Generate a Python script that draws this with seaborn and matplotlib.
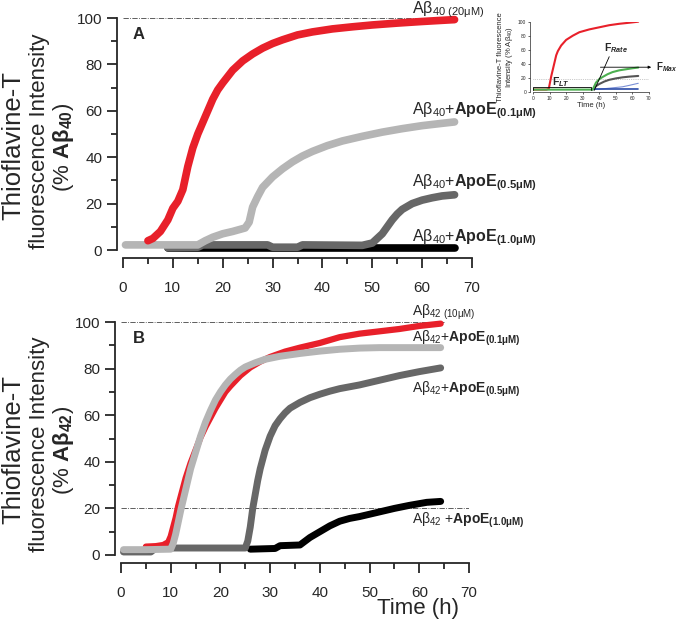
import numpy as np
import pandas as pd
import seaborn as sns
import matplotlib.pyplot as plt
from matplotlib.ticker import MultipleLocator

# ---- panel A : Abeta40 ----
a40_t = [5, 6, 7.5, 9, 10, 11, 12, 13, 14, 15, 16, 17, 18, 19, 20, 22, 24, 26, 28, 30, 32, 35, 38, 42, 46, 50, 55, 60, 64, 66.5]
a40_v = [4, 5, 8, 13, 18, 21, 26, 36, 44, 50, 55, 60, 65, 69, 72, 77.5, 81.5, 84.5, 87, 89, 90.6, 92.7, 94, 95.3, 96.2, 97, 97.8, 98.5, 99, 99.3]
a40_e01_t = [0.5, 5, 10, 15, 16.5, 18, 20, 22, 24.5, 25.3, 26, 27, 28, 30, 32, 34, 36, 38, 41, 44, 48, 52, 56, 60, 64, 66.5]
a40_e01_v = [2.2, 2.2, 2.2, 2.2, 4, 5.5, 7, 8, 9.5, 12, 18.5, 23, 27, 31.5, 35, 38, 40.5, 42.5, 45, 47, 49, 50.8, 52.3, 53.6, 54.6, 55.2]
a40_e05_t = [9, 15, 16, 29, 30, 35, 36, 48, 50, 51, 52, 53, 54, 55, 56, 58, 60, 62, 64, 66.5]
a40_e05_v = [1, 1.2, 2.2, 2.2, 1.2, 1.2, 2.2, 2, 3, 5, 7, 10, 13, 15.5, 17.5, 20, 21.5, 22.5, 23.3, 23.8]
a40_e10_t = [9, 20, 30, 40, 50, 60, 66.5]
a40_e10_v = [0.8, 0.8, 0.8, 0.8, 0.8, 0.8, 0.8]

# ---- panel B : Abeta42 ----
a42_t = [5, 7, 8.5, 9.5, 10, 10.5, 11, 11.5, 12, 12.5, 13, 14, 15, 16, 17, 18, 19, 20, 21, 22, 24, 26, 28, 30, 33, 36, 40, 44, 48, 52, 56, 60, 64.3]
a42_v = [3.6, 3.8, 4.3, 5.5, 8, 12, 16, 21, 25, 29, 33, 39.5, 45, 50.5, 55, 59, 63, 66.5, 70, 72.5, 77, 80.5, 83, 85, 87.3, 89, 91, 93.5, 95, 96, 97, 98.3, 99.3]
a42_e01_t = [0.5, 5, 10, 10.5, 11, 11.5, 12, 13, 14, 15, 16, 17, 18, 19, 20, 21, 22, 23, 24, 25, 27, 29, 32, 36, 40, 44, 48, 52, 56, 60, 64.3]
a42_e01_v = [2.3, 2.3, 2.5, 5, 9, 14, 19, 28, 37, 44, 51, 57, 62, 66.5, 70, 73, 75.5, 77.5, 79.3, 80.7, 82.5, 84, 85.3, 86.5, 87.5, 88.3, 88.8, 89, 89, 89, 89]
a42_e05_t = [0.5, 6, 7, 25, 25.5, 26, 26.5, 27, 27.5, 28, 28.5, 29, 30, 31, 32, 33, 34, 36, 38, 40, 42, 44, 48, 52, 56, 60, 64.3]
a42_e05_v = [1.3, 1.3, 3, 3, 6, 12, 20, 26, 32, 37, 41, 45, 51, 55.5, 58.5, 61, 63, 65.5, 67.5, 69, 70.3, 71.4, 73, 75, 77, 78.7, 80.3]
a42_e10_t = [26, 31, 32, 36, 38, 40, 42, 44, 46, 48, 50, 52, 55, 58, 61.5, 64.3]
a42_e10_v = [2.5, 2.8, 4, 4.3, 7.5, 10, 12.5, 14.5, 15.7, 16.5, 17.5, 18.5, 20, 21.3, 22.6, 23]

# ---- inset (schematic) ----
ins_red_t = [0, 8, 9.5, 10, 11, 12, 13, 14, 15, 17, 20, 24, 28, 34, 40, 46, 52, 58, 63.5]
ins_red_v = [3, 3, 4, 10, 22, 32, 42, 52, 58, 66, 74, 80, 85, 89, 92, 95, 97, 98.5, 100]
ins_green_t = [0, 36, 38, 40, 42, 45, 48, 52, 56, 60, 63.5]
ins_green_v = [3, 3, 13, 18, 21, 25, 28, 30.5, 32, 33.5, 34.5]
ins_gray_t = [36, 38, 40, 43, 46, 50, 54, 58, 63.5]
ins_gray_v = [3, 8, 11, 14.5, 17, 19, 20.5, 21.5, 22.5]
ins_lblue_t = [36, 42, 46, 50, 54, 58, 63.5]
ins_lblue_v = [3, 4, 5, 6, 7, 9, 12]
ins_blue_t = [36, 50, 63.5]
ins_blue_v = [3.5, 3.5, 3.5]

red = '#e8202a'
lgray = '#b5b5b5'
dgray = '#676767'
black = '#000000'

sns.set_style('ticks')
plt.rcParams['font.family'] = ['Liberation Sans', 'DejaVu Sans']
plt.rcParams['mathtext.fontset'] = 'custom'
plt.rcParams['mathtext.rm'] = 'Liberation Sans'
plt.rcParams['mathtext.bf'] = 'Liberation Sans:bold'
plt.rcParams['mathtext.it'] = 'Liberation Sans:bold:italic'
plt.rcParams['mathtext.sf'] = 'Liberation Sans'

fig = plt.figure(figsize=(6.8, 6.23), dpi=100)
W, H = 680.0, 623.0
ax_a = fig.add_axes([123 / W, 1 - 250 / H, 349 / W, 232 / H])
ax_b = fig.add_axes([121 / W, 1 - 555 / H, 348 / W, 233 / H])


def style_axis(ax):
    ax.set_xlim(0, 70)
    ax.set_ylim(0, 100)
    for s in ['top', 'right']:
        ax.spines[s].set_visible(False)
    ax.spines['left'].set_position(('outward', 4))
    ax.spines['bottom'].set_position(('outward', 6))
    ax.spines['left'].set_bounds(0, 100)
    ax.spines['bottom'].set_bounds(0, 70)
    for s in ['left', 'bottom']:
        ax.spines[s].set_linewidth(1.3)
    ax.xaxis.set_major_locator(MultipleLocator(10))
    ax.xaxis.set_minor_locator(MultipleLocator(5))
    ax.yaxis.set_major_locator(MultipleLocator(20))
    ax.yaxis.set_minor_locator(MultipleLocator(10))
    ax.tick_params(axis='x', which='major', length=7, width=1.3, pad=9, labelsize=11)
    ax.tick_params(axis='x', which='minor', length=4.5, width=1.3)
    ax.tick_params(axis='y', which='major', length=7, width=1.3, pad=4, labelsize=11)
    ax.tick_params(axis='y', which='minor', length=4, width=1.3)


def curve(ax, t, v, color, lw):
    sns.lineplot(x=t, y=v, ax=ax, color=color, lw=lw, sort=False,
                 solid_capstyle='round', solid_joinstyle='round', clip_on=False)


def y_title(sub, yc):
    # three-line rotated axis title, first line a bit larger as in the figure
    fig.text(13 / W, 1 - (yc + 5) / H, 'Thioflavine-T', fontsize=18.5, rotation=90, ha='center', va='center')
    fig.text(40 / W, 1 - yc / H, 'fluorescence Intensity', fontsize=16, rotation=90, ha='center', va='center')
    fig.text(64 / W, 1 - (yc + 6) / H, '(% $\\mathbf{A\u03b2_{' + sub + '}}$)', fontsize=16, rotation=90,
             ha='center', va='center')


# panel A
style_axis(ax_a)
ax_a.hlines(100, 0, 67, colors='#444444', linestyles='-.', lw=0.6)
curve(ax_a, a40_e10_t, a40_e10_v, black, 5.5)
curve(ax_a, a40_e05_t, a40_e05_v, dgray, 5.5)
curve(ax_a, a40_e01_t, a40_e01_v, lgray, 5.5)
curve(ax_a, a40_t, a40_v, red, 5.5)
ax_a.text(2, 93, 'A', fontsize=12, fontweight='bold', va='center')
y_title('40', 141)

lab_x = 58
ax_a.text(lab_x, 103.5, 'A\u03b2$_{\\mathrm{40\\ (20\u03bcM)}}$', fontsize=11.5, va='center')
ax_a.text(lab_x, 60, 'A\u03b2$_{\\mathrm{40}}$+$\\mathbf{ApoE_{(0.1\u03bcM)}}$', fontsize=11.5, va='center')
ax_a.text(lab_x, 29, 'A\u03b2$_{\\mathrm{40}}$+$\\mathbf{ApoE_{(0.5\u03bcM)}}$', fontsize=11.5, va='center')
ax_a.text(lab_x, 5.5, 'A\u03b2$_{\\mathrm{40}}$+$\\mathbf{ApoE_{(1.0\u03bcM)}}$', fontsize=11.5, va='center')

# panel B
style_axis(ax_b)
ax_b.hlines(100, 0, 65, colors='#444444', linestyles='-.', lw=0.6)
ax_b.hlines(20, 0, 70, colors='#444444', linestyles='-.', lw=0.6)
curve(ax_b, a42_e10_t, a42_e10_v, black, 5)
curve(ax_b, a42_e05_t, a42_e05_v, dgray, 5)
curve(ax_b, a42_t, a42_v, red, 4.5)
curve(ax_b, a42_e01_t, a42_e01_v, lgray, 5)
ax_b.text(2.4, 93, 'B', fontsize=12, fontweight='bold', va='center')
y_title('42', 444)
ax_b.set_xlabel('Time (h)', fontsize=16)
ax_b.xaxis.set_label_coords(0.853, -0.185)

lab_x = 58.5
ax_b.text(lab_x, 104, 'A\u03b2$_{\\mathrm{42\\ (10\u03bcM)}}$', fontsize=10, va='center')
ax_b.text(lab_x, 93, 'A\u03b2$_{\\mathrm{42}}$+$\\mathbf{ApoE_{(0.1\u03bcM)}}$', fontsize=10, va='center')
ax_b.text(lab_x, 71, 'A\u03b2$_{\\mathrm{42}}$+$\\mathbf{ApoE_{(0.5\u03bcM)}}$', fontsize=10, va='center')
ax_b.text(lab_x, 15, 'A\u03b2$_{\\mathrm{42}}$ +$\\mathbf{ApoE_{(1.0\u03bcM)}}$', fontsize=10, va='center')

# inset
ax_i = fig.add_axes([533 / W, 1 - 91.7 / H, 116 / W, 70 / H])
ax_i.set_xlim(0, 70)
ax_i.set_ylim(0, 100)
for s in ['top', 'right']:
    ax_i.spines[s].set_visible(False)
ax_i.spines['left'].set_position(('outward', 2))
for s in ['left', 'bottom']:
    ax_i.spines[s].set_linewidth(0.5)
ax_i.xaxis.set_major_locator(MultipleLocator(10))
ax_i.yaxis.set_major_locator(MultipleLocator(20))
ax_i.tick_params(length=1.5, width=0.5, pad=1.5, labelsize=3.5)
ax_i.set_xlabel('Time (h)', fontsize=5.5, labelpad=1)
ax_i.set_ylabel('Thioflavine-T fluorescence\nIntensity (% A\u03b2$_{\\mathrm{40}}$)', fontsize=5.5, labelpad=2,
                linespacing=1.0)
ax_i.axhline(18, color='#999999', ls=':', lw=0.5)
sns.lineplot(x=ins_red_t, y=ins_red_v, ax=ax_i, color=red, lw=1.5, sort=False)
sns.lineplot(x=ins_gray_t, y=ins_gray_v, ax=ax_i, color='#555555', lw=1.5, sort=False)
sns.lineplot(x=ins_lblue_t, y=ins_lblue_v, ax=ax_i, color='#7a8fd6', lw=0.8, sort=False)
sns.lineplot(x=ins_blue_t, y=ins_blue_v, ax=ax_i, color='#2a4aa8', lw=1.2, sort=False)
sns.lineplot(x=ins_green_t, y=ins_green_v, ax=ax_i, color='#4caf50', lw=1.5, sort=False)
ax_i.plot([0, 0, 35, 35], [2, 7, 7, 2], color='black', lw=0.6)
ax_i.text(17, 14, '$\\mathbf{F}_{\\mathit{LT}}$', fontsize=7.5, ha='center', va='center')
ax_i.plot([37, 46], [2, 50], color='black', lw=0.6)
ax_i.text(50, 62, '$\\mathbf{F}_{\\mathit{Rate}}$', fontsize=7.5, ha='center', va='center')
ax_i.annotate('', xy=(73, 35), xytext=(39, 35), annotation_clip=False,
              arrowprops=dict(arrowstyle='-|>', color='black', lw=0.6, mutation_scale=4))
ax_i.text(74.5, 35, '$\\mathbf{F}_{\\mathit{Max}}$', fontsize=7, ha='left', va='center')

fig.savefig('out.png', dpi=100)
